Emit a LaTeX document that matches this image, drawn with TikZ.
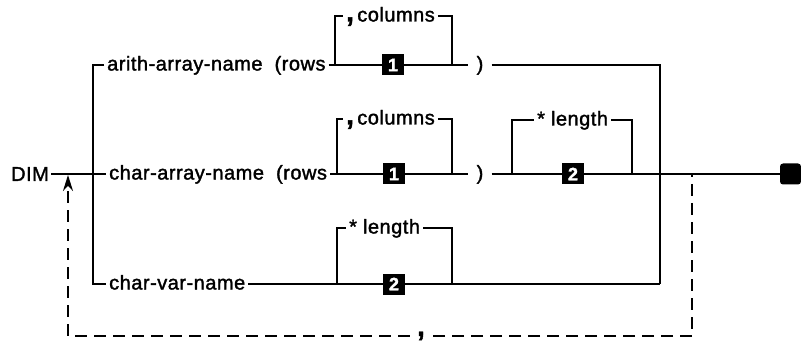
\documentclass[tikz,border=0pt]{standalone}
\usepackage{fontspec}
\setmainfont{Liberation Sans}[LetterSpace=2.5, RawFeature={embolden=1.6}]
\usetikzlibrary{arrows.meta, positioning, calc}

\begin{document}
\begin{tikzpicture}[
  x=1pt, y=-1pt,
  font=\fontsize{20}{22}\selectfont,
  word/.style={anchor=west, inner xsep=3pt, inner ysep=0pt, text height=14pt, text depth=3pt},
  paren/.style={inner xsep=8pt, inner ysep=0pt, text height=14pt, text depth=3pt},
  refbox/.style={fill=black, text=white, inner sep=0pt, minimum width=22pt, minimum height=21pt,
                 font=\fontsize{18}{20}\selectfont\bfseries},
  rail/.style={line width=2.6pt},
  loop/.style={line width=2pt, dash pattern=on 12pt off 7pt},
  bigcomma/.style={font=\fontsize{28}{28}\selectfont\bfseries}
]
  \useasboundingbox (0,0) rectangle (801,342);

  %% Entry
  \node[inner sep=2pt] (dim) at (30,174) {DIM};
  \coordinate (top) at (93,65);
  \coordinate (split) at (93,174);
  \coordinate (bot) at (93,284);

  %% arith-array-name row
  \node[word] (arith) at (104,65) {arith-array-name\ \ (rows};
  \coordinate (a1) at (335,65);
  \node[refbox] (a1box) at (393,65) {1};
  \coordinate (a1end) at (452,65);
  \node[paren] (a1close) at (480,65) {)};
  \coordinate (a1out) at (660,65);
  \node[word] (a1col) at (343,16) {{\fontsize{28}{28}\selectfont\bfseries,}\,columns};

  %% char-array-name row
  \node[word] (chararr) at (106,174) {char-array-name\ \ (rows};
  \coordinate (c1) at (337,174);
  \node[refbox] (c1box) at (394,174) {1};
  \coordinate (c1end) at (452,174);
  \node[paren] (c1close) at (480,174) {)};
  \coordinate (c2) at (512,174);
  \node[refbox] (c2box) at (573,174) {2};
  \coordinate (c2end) at (632,174);
  \node[word] (c1col) at (343,119) {{\fontsize{28}{28}\selectfont\bfseries,}\,columns};
  \node[word] (c2len) at (534,120) {* length};

  %% char-var-name row
  \node[word] (charvar) at (106,284) {char-var-name};
  \coordinate (v1) at (337,284);
  \node[refbox] (v1box) at (394,284) {2};
  \coordinate (v1end) at (452,284);
  \coordinate (vout) at (660,284);
  \node[word] (v1len) at (346,228) {* length};

  %% End of statement
  \node[fill=black, rounded corners=3pt, minimum size=21pt, inner sep=0pt] (stop) at (790.5,174) {};

  %% Repeat loop
  \coordinate (back) at (692,174);
  \coordinate (ret) at (68,175);
  \node[bigcomma, inner xsep=7pt, inner ysep=2pt] (sep) at (421,336) {,};

  %% Main rails
  \draw[rail] (dim) -- (split) -- (chararr);
  \draw[rail] (arith) -- (top) -- (bot) -- (charvar);
  \draw[rail] (arith) -- (a1) -- (a1box) -- (a1end) -- (a1close);
  \draw[rail] (a1close) -- (a1out) -- (vout);
  \draw[rail] (chararr) -- (c1) -- (c1box) -- (c1end) -- (c1close);
  \draw[rail] (c1close) -- (c2) -- (c2box) -- (c2end) -- (stop);
  \draw[rail] (charvar) -- (v1) -- (v1box) -- (v1end) -- (vout);

  %% Optional parts
  \draw[rail] (a1) |- (a1col.west);
  \draw[rail] (a1col.east) -| (a1end);
  \draw[rail] (c1) |- (c1col.west);
  \draw[rail] (c1col.east) -| (c1end);
  \draw[rail] (c2) |- (c2len.west);
  \draw[rail] (c2len.east) -| (c2end);
  \draw[rail] (v1) |- (v1len.west);
  \draw[rail] (v1len.east) -| (v1end);

  %% Dashed return path
  \draw[loop, dash phase=9pt] (back) |- (sep);
  \draw[loop, -{Stealth[length=16pt, width=10pt]}] (sep) -| (ret);
\end{tikzpicture}
\end{document}
